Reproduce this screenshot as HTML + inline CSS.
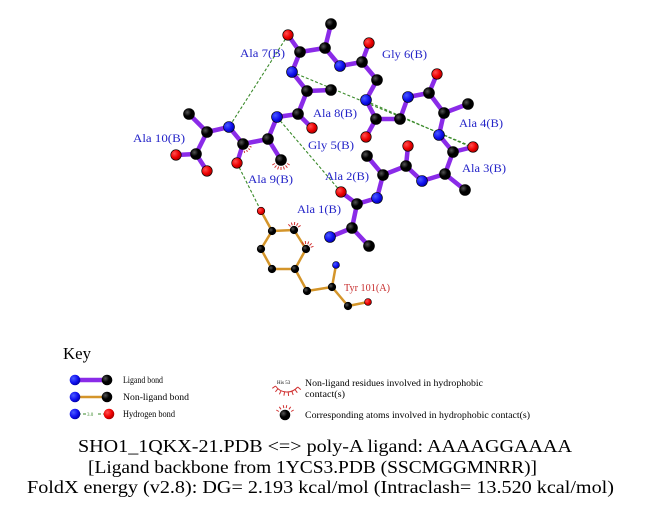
<!DOCTYPE html>
<html><head><meta charset="utf-8"><style>
html,body{margin:0;padding:0;background:#fff;}
svg{display:block;}
.lb{font-family:"Liberation Serif",serif;font-size:12px;fill:#2323c8;}
.k{font-family:"Liberation Serif",serif;font-size:9px;fill:#000;}
.t{font-family:"Liberation Serif",serif;font-size:18px;fill:#000;}
</style></head><body>
<svg width="651" height="511" viewBox="0 0 651 511" xmlns="http://www.w3.org/2000/svg">
<defs>
<radialGradient id="gk" cx="0.35" cy="0.35" r="0.7"><stop offset="0" stop-color="#555"/><stop offset="0.5" stop-color="#000"/><stop offset="1" stop-color="#000"/></radialGradient>
<radialGradient id="gb" cx="0.35" cy="0.35" r="0.7"><stop offset="0" stop-color="#4a5cff"/><stop offset="0.6" stop-color="#1010f0"/><stop offset="1" stop-color="#0000a0"/></radialGradient>
<radialGradient id="gr" cx="0.35" cy="0.35" r="0.7"><stop offset="0" stop-color="#ff5050"/><stop offset="0.6" stop-color="#ee0000"/><stop offset="1" stop-color="#a00000"/></radialGradient>
</defs>

<!-- H-bonds -->
<g stroke="#3a8a2a" stroke-width="1.1" stroke-dasharray="3,2" fill="none">
<line x1="288" y1="35" x2="229" y2="127"/>
<line x1="277" y1="117" x2="341" y2="192"/>
<line x1="237" y1="163" x2="261" y2="211"/>
<line x1="292" y1="72" x2="473" y2="147"/>
<line x1="366" y1="101" x2="473" y2="148"/>
</g>

<!-- Ligand bonds -->
<g stroke="#8a2be8" stroke-width="4.5" stroke-linecap="round" fill="none">
<line x1="330" y1="237" x2="352" y2="228"/><line x1="352" y1="228" x2="369" y2="246"/><line x1="352" y1="228" x2="357" y2="204"/><line x1="357" y1="204" x2="341" y2="192"/><line x1="357" y1="204" x2="377" y2="198"/>
<line x1="377" y1="198" x2="383" y2="175"/><line x1="383" y1="175" x2="367" y2="156"/><line x1="383" y1="175" x2="406" y2="166"/><line x1="406" y1="166" x2="408" y2="146"/><line x1="406" y1="166" x2="422" y2="181"/>
<line x1="422" y1="181" x2="445" y2="174"/><line x1="445" y1="174" x2="465" y2="190"/><line x1="445" y1="174" x2="453" y2="152"/><line x1="453" y1="152" x2="473" y2="147"/><line x1="453" y1="152" x2="439" y2="135"/>
<line x1="439" y1="135" x2="444" y2="113"/><line x1="444" y1="113" x2="468" y2="104"/><line x1="444" y1="113" x2="429" y2="93"/><line x1="429" y1="93" x2="437" y2="74"/><line x1="429" y1="93" x2="408" y2="97"/>
<line x1="408" y1="97" x2="400" y2="119"/><line x1="400" y1="119" x2="376" y2="119"/><line x1="376" y1="119" x2="366" y2="137"/><line x1="376" y1="119" x2="366" y2="100"/>
<line x1="366" y1="100" x2="377" y2="80"/><line x1="377" y1="80" x2="362" y2="62"/><line x1="362" y1="62" x2="369" y2="43"/><line x1="362" y1="62" x2="340" y2="66"/>
<line x1="340" y1="66" x2="325" y2="48"/><line x1="325" y1="48" x2="331" y2="24"/><line x1="325" y1="48" x2="300" y2="52"/><line x1="300" y1="52" x2="288" y2="35"/><line x1="300" y1="52" x2="292" y2="72"/>
<line x1="292" y1="72" x2="307" y2="91"/><line x1="307" y1="91" x2="331" y2="90"/><line x1="307" y1="91" x2="298" y2="114"/><line x1="298" y1="114" x2="312" y2="128"/><line x1="298" y1="114" x2="277" y2="117"/>
<line x1="277" y1="117" x2="268" y2="139"/><line x1="268" y1="139" x2="281" y2="160"/><line x1="268" y1="139" x2="243" y2="144"/><line x1="243" y1="144" x2="237" y2="163"/><line x1="243" y1="144" x2="229" y2="127"/>
<line x1="229" y1="127" x2="207" y2="132"/><line x1="207" y1="132" x2="189" y2="114"/><line x1="207" y1="132" x2="196" y2="154"/><line x1="196" y1="154" x2="176" y2="155"/><line x1="196" y1="154" x2="207" y2="171"/>
</g>

<!-- Tyr bonds -->
<g stroke="#d4952a" stroke-width="2.5" stroke-linecap="round" fill="none">
<line x1="261" y1="211" x2="272" y2="231"/>
<polygon points="272,231 294,230 306,249 295,269 272,269 261,249"/>
<line x1="295" y1="269" x2="307" y2="291"/><line x1="307" y1="291" x2="332" y2="287"/><line x1="332" y1="287" x2="336" y2="265"/><line x1="332" y1="287" x2="348" y2="306"/><line x1="348" y1="306" x2="368" y2="302"/>
</g>

<!-- hydrophobic eyelashes -->
<g stroke="#d03030" stroke-width="1" fill="none">
<line x1="287.1" y1="163.5" x2="289.7" y2="165"/><line x1="285.5" y1="165.4" x2="287.4" y2="167.7"/><line x1="283.4" y1="166.6" x2="284.4" y2="169.4"/><line x1="281" y1="167" x2="281" y2="170"/><line x1="278.6" y1="166.6" x2="277.6" y2="169.4"/><line x1="276.5" y1="165.4" x2="274.6" y2="167.7"/><line x1="274.9" y1="163.5" x2="272.3" y2="165"/>
<line x1="249.6" y1="146.4" x2="251.5" y2="147.1"/><line x1="248.4" y1="148.5" x2="249.9" y2="149.8"/><line x1="246.5" y1="150.1" x2="247.5" y2="151.8"/><line x1="244.2" y1="150.9" x2="244.6" y2="152.9"/>
<line x1="290.5" y1="226.5" x2="288.3" y2="224.3"/><line x1="292.3" y1="225.3" x2="291.3" y2="222.5"/><line x1="294.4" y1="225" x2="294.7" y2="222"/><line x1="296.5" y1="225.7" x2="298" y2="223.1"/><line x1="298.1" y1="227.1" x2="300.6" y2="225.4"/>
<line x1="303.5" y1="244.7" x2="302" y2="242.1"/><line x1="305.6" y1="244" x2="305.3" y2="241"/><line x1="307.7" y1="244.3" x2="308.7" y2="241.5"/><line x1="309.5" y1="245.5" x2="311.7" y2="243.3"/><line x1="310.7" y1="247.3" x2="313.5" y2="246.3"/>
</g>

<!-- Ligand atoms -->
<g stroke="#000" stroke-width="0.6">
<g fill="url(#gk)">
<circle cx="352" cy="228" r="5.5"/><circle cx="369" cy="246" r="5.5"/><circle cx="357" cy="204" r="5.5"/>
<circle cx="383" cy="175" r="5.5"/><circle cx="367" cy="156" r="5.5"/><circle cx="406" cy="166" r="5.5"/>
<circle cx="445" cy="174" r="5.5"/><circle cx="465" cy="190" r="5.5"/><circle cx="453" cy="152" r="5.5"/>
<circle cx="444" cy="113" r="5.5"/><circle cx="468" cy="104" r="5.5"/><circle cx="429" cy="93" r="5.5"/>
<circle cx="400" cy="119" r="5.5"/><circle cx="376" cy="119" r="5.5"/>
<circle cx="377" cy="80" r="5.5"/><circle cx="362" cy="62" r="5.5"/>
<circle cx="325" cy="48" r="5.5"/><circle cx="331" cy="24" r="5.5"/><circle cx="300" cy="52" r="5.5"/>
<circle cx="307" cy="91" r="5.5"/><circle cx="331" cy="90" r="5.5"/><circle cx="298" cy="114" r="5.5"/>
<circle cx="268" cy="139" r="5.5"/><circle cx="281" cy="160" r="5.5"/><circle cx="243" cy="144" r="5.5"/>
<circle cx="207" cy="132" r="5.5"/><circle cx="189" cy="114" r="5.5"/><circle cx="196" cy="154" r="5.5"/>
</g>
<g fill="url(#gb)">
<circle cx="330" cy="237" r="5.5"/><circle cx="377" cy="198" r="5.5"/><circle cx="422" cy="181" r="5.5"/>
<circle cx="439" cy="135" r="5.5"/><circle cx="408" cy="97" r="5.5"/><circle cx="366" cy="100" r="5.5"/>
<circle cx="340" cy="66" r="5.5"/><circle cx="292" cy="72" r="5.5"/><circle cx="277" cy="117" r="5.5"/>
<circle cx="229" cy="127" r="5.5"/>
</g>
<g fill="url(#gr)">
<circle cx="341" cy="192" r="5.3"/><circle cx="408" cy="146" r="5.3"/><circle cx="473" cy="147" r="5.3"/>
<circle cx="437" cy="74" r="5.3"/><circle cx="366" cy="137" r="5.3"/><circle cx="369" cy="43" r="5.3"/>
<circle cx="288" cy="35" r="5.3"/><circle cx="312" cy="128" r="5.3"/><circle cx="237" cy="163" r="5.3"/>
<circle cx="176" cy="155" r="5.3"/><circle cx="207" cy="171" r="5.3"/>
</g>
<!-- Tyr atoms -->
<g fill="url(#gk)">
<circle cx="272" cy="231" r="3.8"/><circle cx="294" cy="230" r="3.8"/><circle cx="306" cy="249" r="3.8"/>
<circle cx="295" cy="269" r="3.8"/><circle cx="272" cy="269" r="3.8"/><circle cx="261" cy="249" r="3.8"/>
<circle cx="307" cy="291" r="3.8"/><circle cx="332" cy="287" r="3.8"/><circle cx="348" cy="306" r="3.8"/>
</g>
<circle cx="336" cy="265" r="3.5" fill="url(#gb)"/>
<circle cx="261" cy="211" r="3.8" fill="url(#gr)"/>
<circle cx="368" cy="302" r="3.5" fill="url(#gr)"/>
</g>

<!-- Labels -->
<text class="lb" x="240" y="57" textLength="45" lengthAdjust="spacingAndGlyphs">Ala 7(B)</text>
<text class="lb" x="133" y="142" textLength="52" lengthAdjust="spacingAndGlyphs">Ala 10(B)</text>
<text class="lb" x="382" y="58" textLength="45" lengthAdjust="spacingAndGlyphs">Gly 6(B)</text>
<text class="lb" x="313" y="117" textLength="44" lengthAdjust="spacingAndGlyphs">Ala 8(B)</text>
<text class="lb" x="308" y="149" textLength="46" lengthAdjust="spacingAndGlyphs">Gly 5(B)</text>
<text class="lb" x="459" y="127" textLength="44" lengthAdjust="spacingAndGlyphs">Ala 4(B)</text>
<text class="lb" x="462" y="172" textLength="44" lengthAdjust="spacingAndGlyphs">Ala 3(B)</text>
<text class="lb" x="325" y="180" textLength="44" lengthAdjust="spacingAndGlyphs">Ala 2(B)</text>
<text class="lb" x="248" y="183" textLength="45" lengthAdjust="spacingAndGlyphs">Ala 9(B)</text>
<text class="lb" x="297" y="213" textLength="44" lengthAdjust="spacingAndGlyphs">Ala 1(B)</text>
<text class="lb" x="344" y="291" textLength="46" lengthAdjust="spacingAndGlyphs" style="fill:#c83030;font-size:11px">Tyr 101(A)</text>

<!-- Key -->
<text x="63" y="359" style="font-family:'Liberation Serif',serif;font-size:17px" textLength="28" lengthAdjust="spacingAndGlyphs">Key</text>
<line x1="75" y1="380" x2="107" y2="380" stroke="#8a2be8" stroke-width="4.5"/>
<circle cx="75" cy="380" r="5.3" fill="url(#gb)"/><circle cx="107" cy="380" r="5.3" fill="url(#gk)"/>
<line x1="75" y1="397" x2="107" y2="397" stroke="#d4952a" stroke-width="2.5"/>
<circle cx="75" cy="397" r="5.3" fill="url(#gb)"/><circle cx="107" cy="397" r="5.3" fill="url(#gk)"/>
<line x1="78" y1="414" x2="108" y2="414" stroke="#3a8a2a" stroke-width="1" stroke-dasharray="3,2"/>
<rect x="86" y="411" width="10" height="6" fill="#fff"/>
<text x="87" y="416" style="font-family:'Liberation Serif',serif;font-size:5px;fill:#3a8a2a">3.0</text>
<circle cx="75" cy="414" r="5.3" fill="url(#gb)"/><circle cx="109" cy="414" r="5.3" fill="url(#gr)"/>
<text class="k" x="123" y="383" textLength="40" lengthAdjust="spacingAndGlyphs">Ligand bond</text>
<text class="k" x="123" y="400" textLength="66" lengthAdjust="spacingAndGlyphs">Non-ligand bond</text>
<text class="k" x="123" y="417" textLength="52" lengthAdjust="spacingAndGlyphs">Hydrogen bond</text>

<text x="277" y="384" style="font-family:'Liberation Serif',serif;font-size:5px">His 53</text>
<g stroke="#d03030" stroke-width="1" fill="none">
<path d="M297.7 387 A14 14 0 0 1 275.5 386"/>
<line x1="297.7" y1="387" x2="300.8" y2="389.6"/><line x1="295" y1="389.5" x2="297.3" y2="392.7"/><line x1="291.8" y1="391.2" x2="293.2" y2="394.9"/><line x1="288.2" y1="391.9" x2="288.6" y2="395.9"/><line x1="284.6" y1="391.8" x2="283.9" y2="395.7"/><line x1="281.1" y1="390.7" x2="279.4" y2="394.3"/><line x1="278" y1="388.7" x2="275.4" y2="391.8"/><line x1="275.5" y1="386" x2="272.3" y2="388.3"/>
<line x1="278.9" y1="411.5" x2="276.3" y2="410"/><line x1="281" y1="409.3" x2="279.3" y2="406.8"/><line x1="283.8" y1="408.1" x2="283.3" y2="405.2"/><line x1="286.2" y1="408.1" x2="286.7" y2="405.2"/><line x1="289" y1="409.3" x2="290.7" y2="406.8"/><line x1="291.1" y1="411.5" x2="293.7" y2="410"/>
</g>
<circle cx="285" cy="415" r="5.3" fill="url(#gk)"/>
<text class="k" x="305" y="386" textLength="178" lengthAdjust="spacingAndGlyphs">Non-ligand residues involved in hydrophobic</text>
<text class="k" x="305" y="397" textLength="40" lengthAdjust="spacingAndGlyphs">contact(s)</text>
<text class="k" x="305" y="418" textLength="225" lengthAdjust="spacingAndGlyphs">Corresponding atoms involved in hydrophobic contact(s)</text>

<!-- Title -->
<text class="t" x="78" y="452" textLength="494" lengthAdjust="spacingAndGlyphs">SHO1_1QKX-21.PDB &lt;=&gt; poly-A ligand: AAAAGGAAAA</text>
<text class="t" x="88" y="473" textLength="449" lengthAdjust="spacingAndGlyphs">[Ligand backbone from 1YCS3.PDB (SSCMGGMNRR)]</text>
<text class="t" x="27" y="493" textLength="587" lengthAdjust="spacingAndGlyphs">FoldX energy (v2.8): DG= 2.193 kcal/mol (Intraclash= 13.520 kcal/mol)</text>
</svg>
</body></html>
